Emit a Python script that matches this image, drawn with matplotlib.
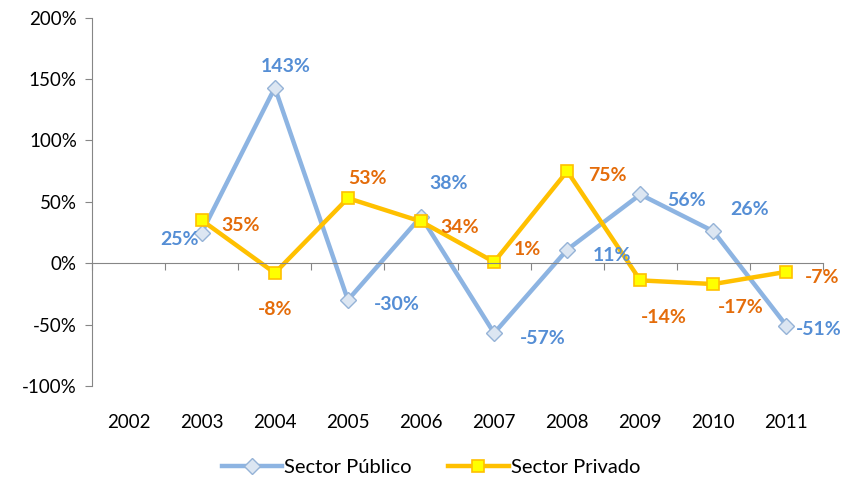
import numpy as np
import matplotlib.pyplot as plt
from matplotlib.ticker import FuncFormatter

plt.rcParams["font.family"] = ["Lato", "DejaVu Sans"]

years = ["2002", "2003", "2004", "2005", "2006", "2007", "2008", "2009", "2010", "2011"]

publico = [np.nan, 25, 143, -30, 38, -57, 11, 56, 26, -51]
privado = [np.nan, 35, -8, 53, 34, 1, 75, -14, -17, -7]

# label offsets in points (style only)
pub_off = [None, (-16, -5), (8, 15), (35, -3), (20, 24), (35, -4), (32, -4), (33, -4), (26, 16), (23, -3)]
pri_off = [None, (28, -4), (0, -26), (14, 14), (28, -4), (24, 9), (29, -3), (17, -27), (20, -17), (26, -4)]

blue_line = "#8DB4E2"
blue_text = "#558ED5"
orange_line = "#FFC000"
orange_text = "#E46C0A"
gray = "#868686"

x = np.arange(len(years))

fig = plt.figure(figsize=(8.45, 4.8), dpi=100)
ax = fig.add_axes([0.109, 0.196, 0.865, 0.767])

ax.plot(
    x, publico,
    color=blue_line, linewidth=3.2,
    marker="D", markersize=8.5,
    markerfacecolor="#DCE6F2", markeredgecolor="#95B3D7", markeredgewidth=1,
    label="Sector Público"
)

ax.plot(
    x, privado,
    color=orange_line, linewidth=3.2,
    marker="s", markersize=9,
    markerfacecolor="#FFFF00", markeredgecolor=orange_line, markeredgewidth=1.2,
    label="Sector Privado"
)

for i in range(len(years)):
    if pub_off[i] is not None:
        ax.annotate(
            f"{publico[i]:.0f}%", (x[i], publico[i]),
            xytext=pub_off[i], textcoords="offset points",
            ha="center", va="center",
            color=blue_text, fontsize=14, fontweight="bold"
        )
    if pri_off[i] is not None:
        ax.annotate(
            f"{privado[i]:.0f}%", (x[i], privado[i]),
            xytext=pri_off[i], textcoords="offset points",
            ha="center", va="center",
            color=orange_text, fontsize=14, fontweight="bold"
        )

ax.set_xlim(-0.5, len(years) - 0.5)
ax.set_ylim(-100, 200)
ax.set_yticks(np.arange(-100, 201, 50))
ax.yaxis.set_major_formatter(FuncFormatter(lambda v, p: f"{v:.0f}%"))

# category axis crossing at zero
ax.spines["bottom"].set_position(("data", 0))
ax.spines["top"].set_visible(False)
ax.spines["right"].set_visible(False)
ax.spines["bottom"].set_color(gray)
ax.spines["left"].set_color(gray)
ax.set_xticks(np.arange(-0.5, len(years), 1.0))
ax.set_xticklabels([])
ax.tick_params(axis="x", length=5, color=gray, direction="out")
ax.tick_params(axis="y", length=5, color=gray, direction="out",
               labelsize=13.5, pad=6)

sec = ax.secondary_xaxis("bottom")
sec.set_xticks(x)
sec.set_xticklabels(years)
sec.tick_params(length=0, labelsize=13.5, pad=20)
sec.spines["bottom"].set_visible(False)

fig.legend(
    loc="lower center", bbox_to_anchor=(0.51, -0.03),
    ncol=2, frameon=False, fontsize=14.5,
    handlelength=3.0, columnspacing=1.8, handletextpad=0.1
)

fig.savefig("out.png", dpi=100)
